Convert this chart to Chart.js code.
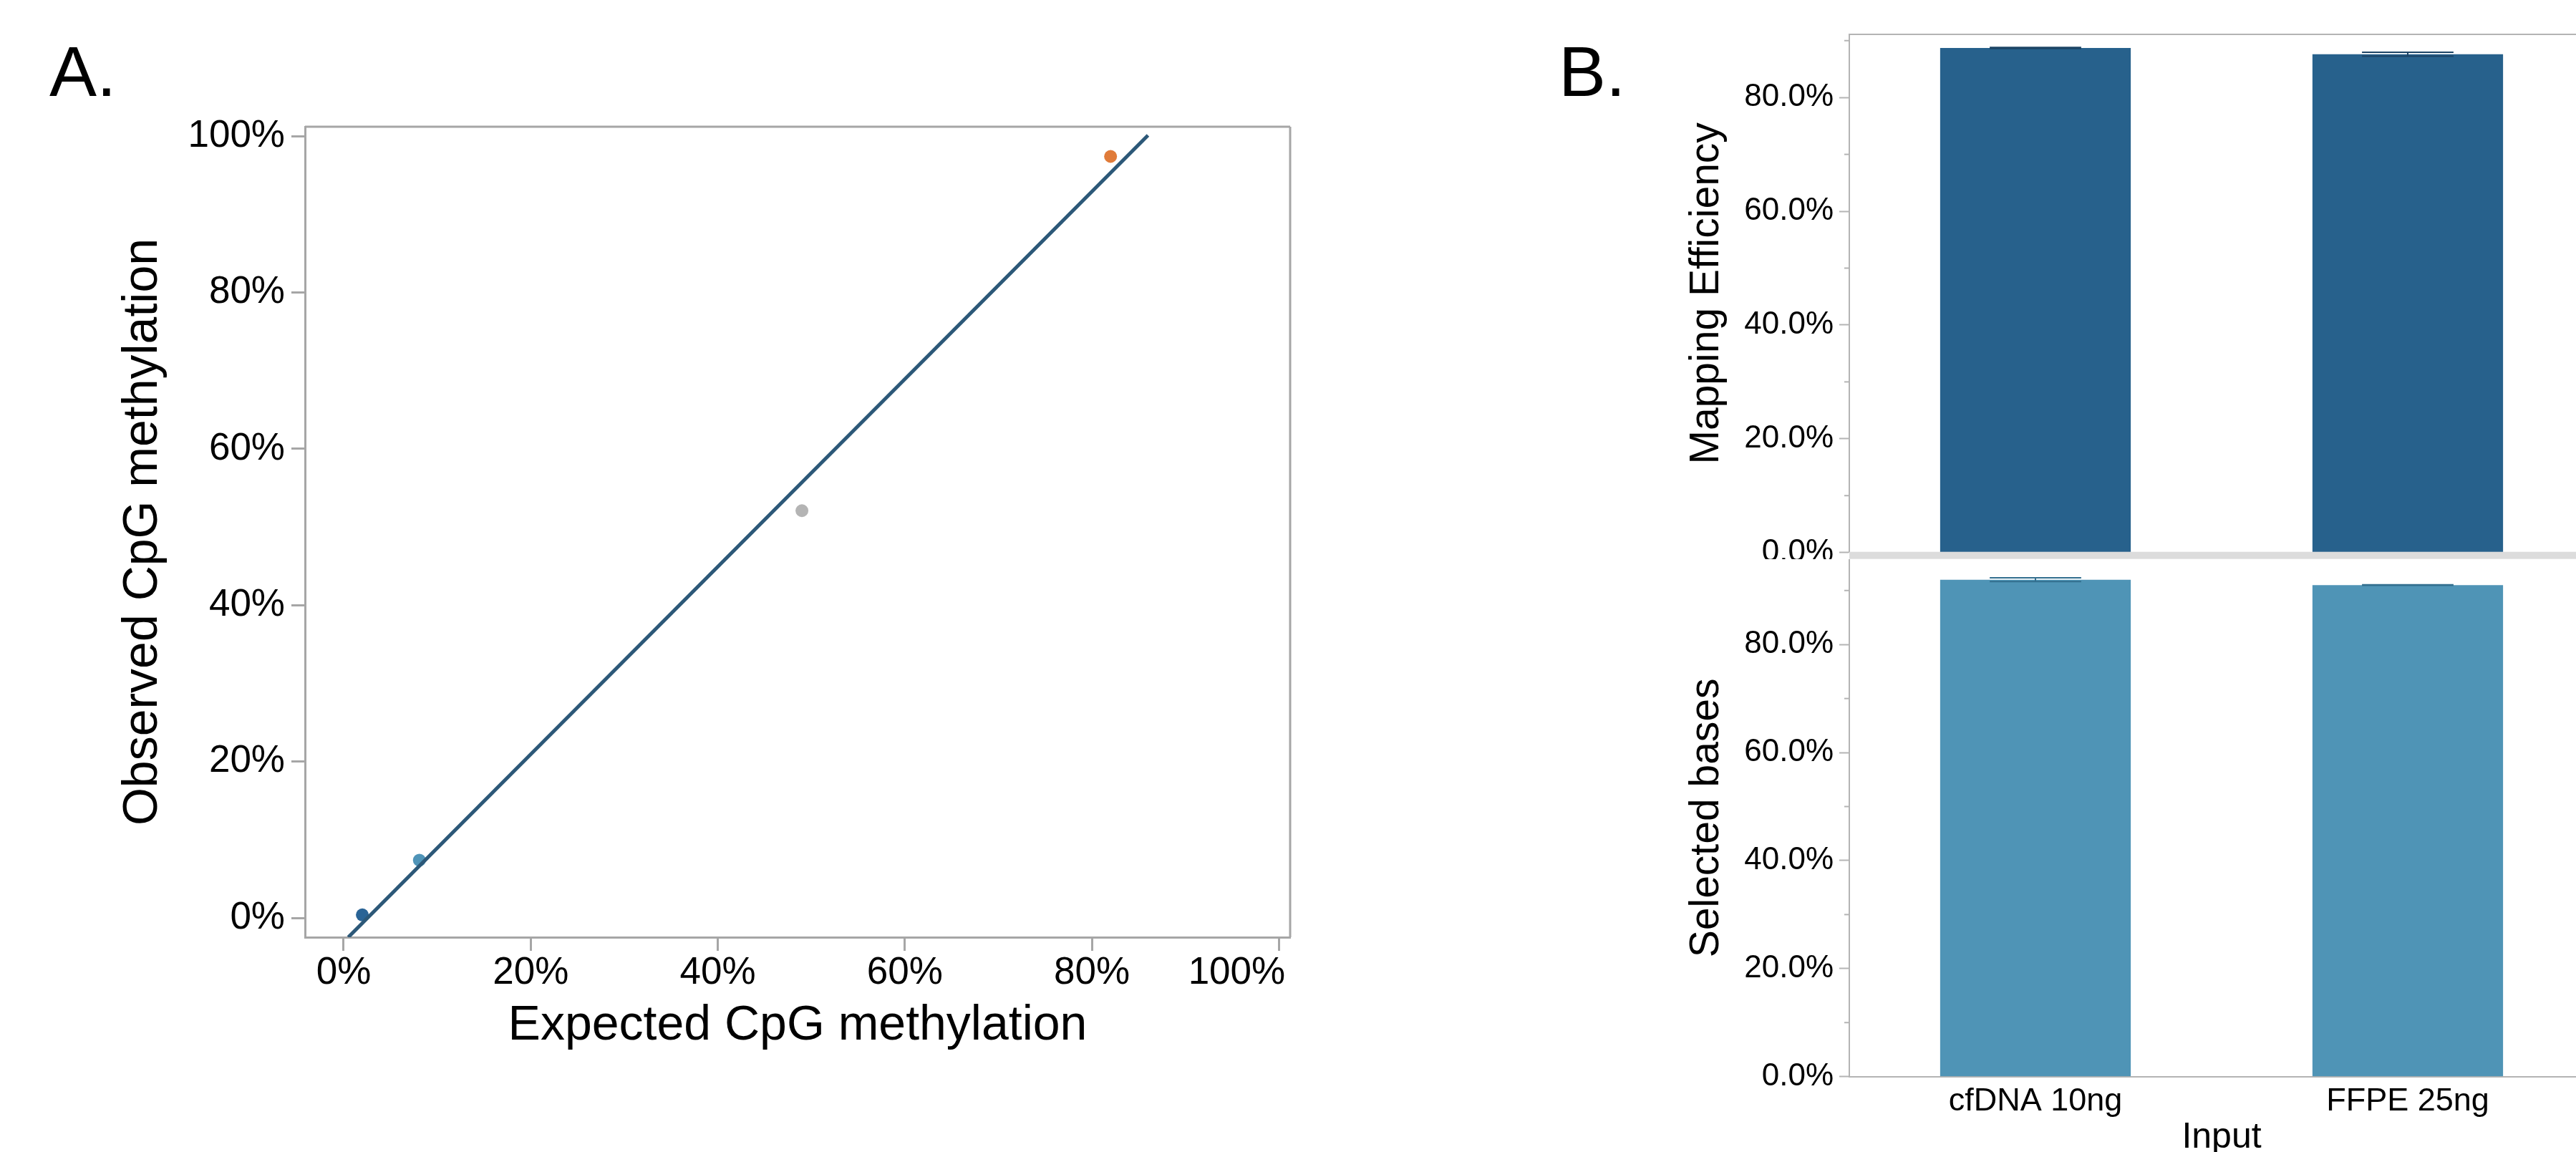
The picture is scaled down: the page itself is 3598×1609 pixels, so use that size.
<!DOCTYPE html>
<html>
<head>
<meta charset="utf-8">
<script src="https://cdn.jsdelivr.net/npm/chart.js@4.4.1/dist/chart.umd.min.js"></script>
<style>
  html, body { margin: 0; padding: 0; background: #fff; overflow: hidden; }
  body { position: relative; width: 3598px; height: 1609px; }
  canvas { position: absolute; }
  .panel-label {
    position: absolute;
    font-family: 'Liberation Sans', Arial, sans-serif;
    font-size: 99px;
    line-height: 1;
    color: #000;
  }
</style>
</head>
<body>
<div class="panel-label" style="left:69px; top:50px;">A.</div>
<div class="panel-label" style="left:2177px; top:50px;">B.</div>
<canvas id="chartA" width="1900" height="1609" style="left:0; top:0;"></canvas>
<canvas id="chartB1" width="1600" height="781" style="left:2100px; top:0;"></canvas>
<canvas id="chartB2" width="1600" height="880" style="left:2100px; top:781px;"></canvas>
<script>
// Panel A: methylation standards, expected vs observed (%)
const expectedPct = [2.0, 8.1, 49.0, 82.0];
const observedPct = [0.4, 7.4, 52.1, 97.4];
const pointColors = ['#2a6496', '#4f94b8', '#b4b4b4', '#e07b39'];

// Panel A: fitted line, its two end points (%)
const fitX = [0.5, 86.0];
const fitY = [-2.45, 100.1];

// Panel B: per input type
const inputs = ['cfDNA 10ng', 'FFPE 25ng'];
const mappingEff = [88.7, 87.6];
const mappingErr = [0.1, 0.35];
const selectedBases = [92.0, 91.0];
const selectedErr = [0.35, 0.05];

const A_AXIS = '#a6a6a6';
const B_AXIS = '#b4b4b4';

Chart.defaults.font.family = "'Liberation Sans', Arial, sans-serif";
Chart.defaults.color = '#000';

// frame round the plot area (only the requested sides)
const frame = {
    id: 'frame',
    afterDatasetsDraw(chart, args, opts) {
        const { ctx, chartArea: a } = chart;
        ctx.save();
        ctx.strokeStyle = opts.color;
        ctx.lineWidth = opts.width;
        ctx.beginPath();
        if (opts.sides.includes('top')) { ctx.moveTo(a.left, a.top); ctx.lineTo(a.right, a.top); }
        if (opts.sides.includes('right')) { ctx.moveTo(a.right, a.top); ctx.lineTo(a.right, a.bottom); }
        ctx.stroke();
        ctx.restore();
    }
};

// whiskers on the bars
const errorBars = {
    id: 'errorBars',
    afterDatasetsDraw(chart, args, opts) {
        const { ctx } = chart;
        const y = chart.scales.y;
        const values = chart.data.datasets[0].data;
        ctx.save();
        ctx.strokeStyle = opts.color;
        ctx.lineWidth = 2;
        chart.getDatasetMeta(0).data.forEach((bar, i) => {
            const half = bar.width * 0.24;
            const hi = y.getPixelForValue(values[i] + opts.errors[i]);
            const lo = y.getPixelForValue(values[i] - opts.errors[i]);
            ctx.beginPath();
            ctx.moveTo(bar.x - half, hi); ctx.lineTo(bar.x + half, hi);
            ctx.moveTo(bar.x - half, lo); ctx.lineTo(bar.x + half, lo);
            ctx.moveTo(bar.x, hi); ctx.lineTo(bar.x, lo);
            ctx.stroke();
        });
        ctx.restore();
    }
};

// short ticks between the labelled ones
const minorTicks = {
    id: 'minorTicks',
    afterDraw(chart, args, opts) {
        const { ctx } = chart;
        const s = chart.scales.y;
        ctx.save();
        ctx.strokeStyle = B_AXIS;
        ctx.lineWidth = 2;
        s.ticks.forEach(t => {
            if (t.value % 20 === 0) return;
            const py = s.getPixelForValue(t.value);
            ctx.beginPath();
            ctx.moveTo(s.right - opts.length, py);
            ctx.lineTo(s.right, py);
            ctx.stroke();
        });
        ctx.restore();
    }
};

// grey band between the two B panels
const separator = {
    id: 'separator',
    afterDraw(chart, args, opts) {
        const { ctx, chartArea: a } = chart;
        ctx.save();
        ctx.fillStyle = '#dcdcdc';
        ctx.fillRect(a.left, a.bottom - 1, chart.width - a.left, opts.height);
        ctx.restore();
    }
};

function noPadding(s) {
    s.paddingTop = 0; s.paddingBottom = 0; s.paddingLeft = 0; s.paddingRight = 0;
}

// ---------- Panel A ----------
new Chart(document.getElementById('chartA'), {
    type: 'scatter',
    data: {
        datasets: [
            {
                data: fitX.map((x, i) => ({ x: x, y: fitY[i] })),
                showLine: true,
                borderColor: '#2c5878',
                borderWidth: 5,
                pointRadius: 0
            },
            {
                data: expectedPct.map((x, i) => ({ x: x, y: observedPct[i] })),
                pointRadius: 9,
                pointBackgroundColor: pointColors,
                pointBorderWidth: 0
            }
        ]
    },
    options: {
        responsive: false,
        animation: false,
        layout: { padding: { left: 0, top: 177, right: 98, bottom: 0 } },
        plugins: {
            legend: { display: false },
            tooltip: { enabled: false },
            frame: { color: A_AXIS, width: 3, sides: ['top', 'right'] }
        },
        scales: {
            x: {
                min: -4.13,
                max: 101.2,
                ticks: {
                    stepSize: 20,
                    includeBounds: false,
                    padding: 0,
                    font: { size: 53 },
                    // last label sits pulled in towards the frame
                    callback: v => (v === 100 ? v + '%' + '\u00a0'.repeat(8) : v + '%')
                },
                grid: { drawOnChartArea: false, tickLength: 19, tickWidth: 3, tickColor: A_AXIS },
                border: { color: A_AXIS, width: 3 },
                title: {
                    display: true,
                    text: 'Expected CpG methylation',
                    font: { size: 68 },
                    padding: { top: 0, bottom: 135 }
                },
                afterFit: s => { s.height = 300; noPadding(s); }
            },
            y: {
                min: -2.45,
                max: 101.2,
                ticks: {
                    stepSize: 20,
                    includeBounds: false,
                    padding: 9,
                    font: { size: 53 },
                    callback: v => v + '%'
                },
                grid: { drawOnChartArea: false, tickLength: 19, tickWidth: 3, tickColor: A_AXIS },
                border: { color: A_AXIS, width: 3 },
                title: {
                    display: true,
                    text: 'Observed CpG methylation',
                    font: { size: 68 },
                    padding: { top: 159, bottom: 0 }
                },
                afterFit: s => { s.width = 426; noPadding(s); }
            }
        }
    },
    plugins: [frame]
});

// ---------- Panel B ----------
function percentAxis(title, max) {
    return {
        min: 0,
        max: max,
        ticks: {
            stepSize: 10,
            includeBounds: false,
            padding: 8,
            font: { size: 44 },
            callback: v => (v % 20 === 0 ? v.toFixed(1) + '%' : '')
        },
        grid: {
            drawOnChartArea: false,
            tickLength: 14,
            tickWidth: 2,
            tickColor: c => (c.tick && c.tick.value % 20 === 0 ? B_AXIS : 'rgba(0,0,0,0)')
        },
        border: { color: B_AXIS, width: 2 },
        title: {
            display: true,
            text: title,
            font: { size: 57 },
            padding: { top: 250, bottom: 0 }
        },
        afterFit: s => { s.width = 483; noPadding(s); }
    };
}

new Chart(document.getElementById('chartB1'), {
    type: 'bar',
    data: {
        labels: inputs,
        datasets: [{
            data: mappingEff,
            backgroundColor: '#27618c',
            barPercentage: 0.512,
            categoryPercentage: 1
        }]
    },
    options: {
        responsive: false,
        animation: false,
        layout: { padding: { left: 0, top: 48, right: 77, bottom: 9.3 } },
        plugins: {
            legend: { display: false },
            tooltip: { enabled: false },
            errorBars: { errors: mappingErr, color: '#1c4465' },
            minorTicks: { length: 7 },
            frame: { color: B_AXIS, width: 2, sides: ['top'] },
            separator: { height: 10 }
        },
        scales: {
            x: { display: false },
            y: percentAxis('Mapping Efficiency', 91.1)
        }
    },
    plugins: [errorBars, minorTicks, frame, separator]
});

new Chart(document.getElementById('chartB2'), {
    type: 'bar',
    data: {
        labels: inputs,
        datasets: [{
            data: selectedBases,
            backgroundColor: '#4f94b6',
            barPercentage: 0.512,
            categoryPercentage: 1
        }]
    },
    options: {
        responsive: false,
        animation: false,
        layout: { padding: { left: 0, top: 0, right: 77, bottom: 0 } },
        plugins: {
            legend: { display: false },
            tooltip: { enabled: false },
            errorBars: { errors: selectedErr, color: '#336f8f' },
            minorTicks: { length: 7 }
        },
        scales: {
            x: {
                ticks: { padding: 8, font: { size: 45 } },
                grid: { drawOnChartArea: false, drawTicks: false },
                border: { color: B_AXIS, width: 2 },
                title: {
                    display: true,
                    text: 'Input',
                    font: { size: 50 },
                    padding: { top: 0, bottom: 42 }
                },
                afterFit: s => { s.height = 157.3; noPadding(s); }
            },
            y: percentAxis('Selected bases', 95.8)
        }
    },
    plugins: [errorBars, minorTicks]
});
</script>
</body>
</html>
